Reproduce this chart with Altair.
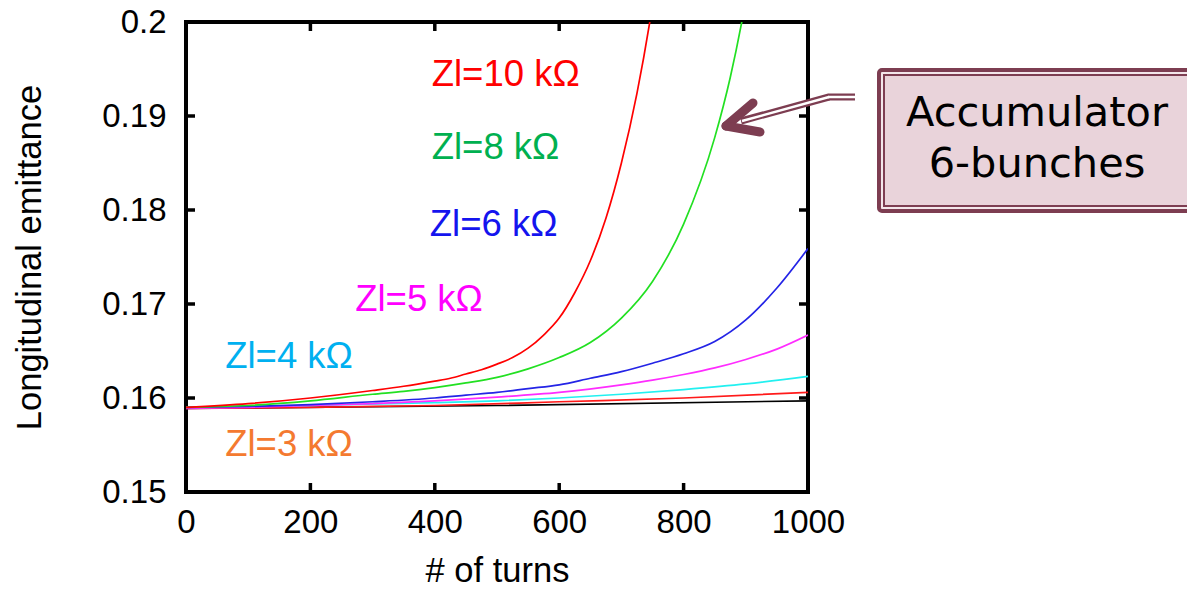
import altair as alt
import pandas as pd

# ---- simulated longitudinal emittance vs. turns, one curve per impedance ----
TURNS_10K = [0, 100, 200, 300, 350, 400, 425, 450, 475, 500, 525, 550, 575, 600, 625,
             650, 675, 700, 725, 750, 775]
EMIT_10K = [0.1590, 0.1594, 0.1600, 0.1608, 0.16125, 0.1618, 0.1621, 0.16255, 0.1630,
            0.1636, 0.1643, 0.1653, 0.1667, 0.1685, 0.1712, 0.1746, 0.1791, 0.1850,
            0.1924, 0.2018, 0.2135]

TURNS_8K = [0, 100, 200, 300, 350, 400, 450, 500, 550, 600, 650, 700, 750, 800, 850,
            875, 900, 925]
EMIT_8K = [0.1590, 0.1592, 0.1597, 0.1604, 0.1607, 0.1611, 0.1616, 0.1622, 0.1631,
           0.1643, 0.1659, 0.1685, 0.1724, 0.1785, 0.1877, 0.1941, 0.2023, 0.2124]

TURNS_6K = [0, 100, 200, 300, 400, 450, 500, 550, 600, 650, 700, 750, 800, 850, 900,
            950, 1000]
EMIT_6K = [0.1590, 0.1591, 0.1593, 0.1596, 0.1600, 0.1603, 0.1606, 0.1610, 0.1614,
           0.1621, 0.1628, 0.1637, 0.1647, 0.1660, 0.1683, 0.1717, 0.1759]

TURNS_5K = [0, 100, 200, 300, 400, 500, 600, 700, 750, 800, 850, 900, 950, 1000]
EMIT_5K = [0.1589, 0.1590, 0.1592, 0.1594, 0.1597, 0.1601, 0.1606, 0.1614, 0.1619,
           0.1625, 0.1632, 0.1641, 0.1652, 0.1667]

TURNS_4K = [0, 200, 400, 500, 600, 700, 800, 900, 1000]
EMIT_4K = [0.1590, 0.1592, 0.1595, 0.1597, 0.1600, 0.1604, 0.1609, 0.1615, 0.1623]

TURNS_3K = [0, 200, 400, 600, 800, 1000]
EMIT_3K = [0.1589, 0.1590, 0.1592, 0.1596, 0.1600, 0.1606]

TURNS_BASE = [0, 500, 1000]
EMIT_BASE = [0.1589, 0.1592, 0.1597]

SERIES_NAMES = ["baseline", "3 kOhm", "4 kOhm", "5 kOhm", "6 kOhm", "8 kOhm", "10 kOhm"]
SERIES_TURNS = [TURNS_BASE, TURNS_3K, TURNS_4K, TURNS_5K, TURNS_6K, TURNS_8K, TURNS_10K]
SERIES_EMIT = [EMIT_BASE, EMIT_3K, EMIT_4K, EMIT_5K, EMIT_6K, EMIT_8K, EMIT_10K]
LINE_COLORS = ["#000000", "#ff1a1a", "#22f0f0", "#ff2cff", "#2424e6", "#22e022", "#ff0000"]

# curve labels
LABEL_TEXT = ["Zl=10 k\u03a9", "Zl=8 k\u03a9", "Zl=6 k\u03a9", "Zl=5 k\u03a9", "Zl=4 k\u03a9", "Zl=3 k\u03a9"]
LABEL_COLOR = ["#ff0000", "#00b050", "#1414ee", "#ff00ff", "#00b0f0", "#f47a30"]
LABEL_TURN = [395, 395, 392, 272, 63, 63]
LABEL_EMIT = [0.19436, 0.18660, 0.17840, 0.17043, 0.16436, 0.15500]

X_TICKS = [0, 200, 400, 600, 800, 1000]
Y_TICKS = [0.15, 0.16, 0.17, 0.18, 0.19, 0.2]

W, H = 622, 470
FONT = "Liberation Sans"
MAROON = "#7d3d51"

rows = []
for name, ts, es in zip(SERIES_NAMES, SERIES_TURNS, SERIES_EMIT):
    for t, e in zip(ts, es):
        rows.append({"turn": t, "emit": e, "series": name})
curves_df = pd.DataFrame(rows)

labels_df = pd.DataFrame({"turn": LABEL_TURN, "emit": LABEL_EMIT,
                          "text": LABEL_TEXT, "color": LABEL_COLOR})

xscale = alt.Scale(domain=[0, 1000], nice=False)
yscale = alt.Scale(domain=[0.15, 0.2], nice=False, zero=False)

curves = alt.Chart(curves_df).mark_line(
    strokeWidth=1.7, clip=True, interpolate="monotone"
).encode(
    x=alt.X("turn:Q", scale=xscale,
            axis=alt.Axis(values=X_TICKS, title="# of turns", orient="bottom", format="d")),
    y=alt.Y("emit:Q", scale=yscale,
            axis=alt.Axis(values=Y_TICKS, title="Longitudinal emittance", orient="left",
                          labelExpr="toString(round(datum.value * 100) / 100)")),
    color=alt.Color("series:N", scale=alt.Scale(domain=SERIES_NAMES, range=LINE_COLORS),
                    legend=None),
)

curve_labels = alt.Chart(labels_df).mark_text(
    align="left", baseline="middle", font=FONT, fontSize=36.5
).encode(
    x=alt.X("turn:Q", scale=xscale),
    y=alt.Y("emit:Q", scale=yscale),
    text="text:N",
    color=alt.Color("color:N", scale=None),
)

# inward ticks on all four sides of the frame
xt = pd.DataFrame({"turn": X_TICKS})
yt = pd.DataFrame({"emit": Y_TICKS})
tick_style = dict(color="black", strokeWidth=3.5)
ticks_bottom = alt.Chart(xt).mark_rule(**tick_style).encode(
    x=alt.X("turn:Q", scale=xscale), y=alt.value(H), y2=alt.value(H - 9))
ticks_top = alt.Chart(xt).mark_rule(**tick_style).encode(
    x=alt.X("turn:Q", scale=xscale), y=alt.value(0), y2=alt.value(9))
ticks_left = alt.Chart(yt).mark_rule(**tick_style).encode(
    y=alt.Y("emit:Q", scale=yscale), x=alt.value(0), x2=alt.value(9))
ticks_right = alt.Chart(yt).mark_rule(**tick_style).encode(
    y=alt.Y("emit:Q", scale=yscale), x=alt.value(W), x2=alt.value(W - 9))

one = alt.InlineData(values=[{}])

# callout box on the right
box_outer = alt.Chart(one).mark_rect(
    fill="#f3e6ea", stroke=MAROON, strokeWidth=4, cornerRadius=3
).encode(x=alt.value(693), x2=alt.value(1020), y=alt.value(48), y2=alt.value(189))
box_inner = alt.Chart(one).mark_rect(
    fill="#e9d3da", stroke=MAROON, strokeWidth=2
).encode(x=alt.value(698), x2=alt.value(1020), y=alt.value(53), y2=alt.value(184))
box_text1 = alt.Chart(one).mark_text(
    font="DejaVu Sans", fontSize=41.5, color="black", align="center", baseline="middle"
).encode(x=alt.value(851), y=alt.value(92), text=alt.value("Accumulator"))
box_text2 = alt.Chart(one).mark_text(
    font="DejaVu Sans", fontSize=41.5, color="black", align="center", baseline="middle"
).encode(x=alt.value(851), y=alt.value(143), text=alt.value("6-bunches"))

# arrow from the box to the 8 kOhm curve
def seg(x1, y1, x2, y2, color, width, cap="round"):
    return alt.Chart(one).mark_rule(color=color, strokeWidth=width, strokeCap=cap).encode(
        x=alt.value(x1), y=alt.value(y1), x2=alt.value(x2), y2=alt.value(y2))

arrow = [
    seg(669, 75, 642, 75, MAROON, 7, "butt"),
    seg(643, 75, 555, 99, MAROON, 7, "butt"),
    seg(669, 75, 642, 75, "white", 2.5, "butt"),
    seg(643, 75, 556, 99, "white", 2.5, "butt"),
    seg(540, 104, 567, 81, MAROON, 9),
    seg(540, 104, 574, 110, MAROON, 9),
]

chart = alt.layer(
    curves, curve_labels, ticks_bottom, ticks_top, ticks_left, ticks_right,
    box_outer, box_inner, box_text1, box_text2, *arrow
).properties(
    width=W, height=H,
    padding={"left": 186, "top": 22, "right": 379, "bottom": 97},
    autosize=alt.AutoSizeParams(type="none"),
    background="white",
).configure_view(
    stroke="black", strokeWidth=4
).configure_axis(
    ticks=False, domain=False, grid=False,
    labelFont=FONT, labelFontSize=33, labelColor="black", labelFlush=False,
    titleFont=FONT, titleFontSize=34.5, titleFontWeight="normal", titleColor="black",
).configure_axisX(
    labelPadding=14, titlePadding=15
).configure_axisY(
    labelPadding=20, titlePadding=54
)

chart.save("out.html", embed_options={"renderer": "svg", "actions": False})
